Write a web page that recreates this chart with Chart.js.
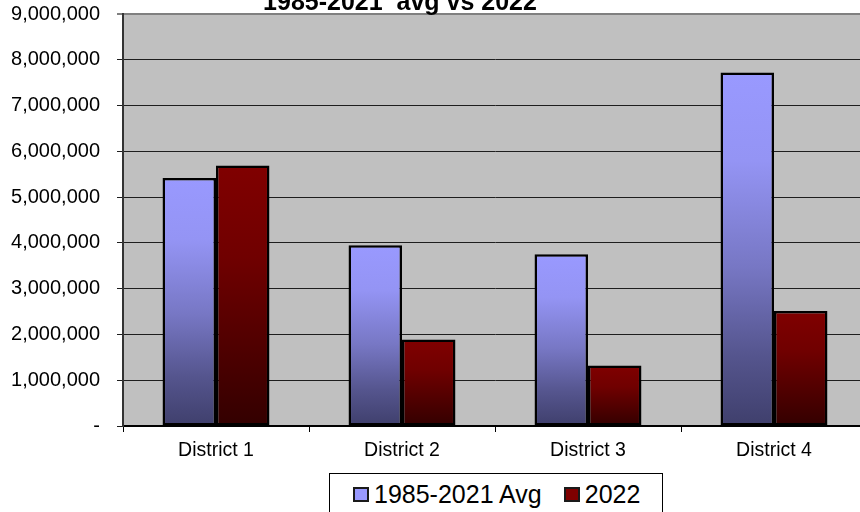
<!DOCTYPE html>
<html>
<head>
<meta charset="utf-8">
<script src="https://cdn.jsdelivr.net/npm/chart.js@4/dist/chart.umd.min.js"></script>
<style>
  html, body { margin: 0; padding: 0; background: #fff; overflow: hidden; }
  #wrap { position: relative; width: 860px; height: 512px; overflow: hidden; }
  #chart { position: absolute; left: 0; top: 0; }
  #legend {
    position: absolute; left: 329px; top: 473px; width: 334px; height: 60px;
    box-sizing: border-box; border: 1px solid #000; background: #fff;
    display: flex; align-items: flex-start; padding: 8px 0 0 23px;
    font: 25px "Liberation Sans", Arial, sans-serif; line-height: 1; color: #000;
    white-space: nowrap;
  }
  #legend .item { display: flex; align-items: center; margin-right: 22px; flex-shrink: 0; }
  #legend .swatch { width: 16px; height: 15px; box-sizing: border-box; border: 2px solid #1a1a1a; margin-right: 5px; }
</style>
</head>
<body>
<div id="wrap">
  <canvas id="chart" width="868" height="512"></canvas>
  <div id="legend"></div>
</div>
<script>
const districts = ['District 1', 'District 2', 'District 3', 'District 4'];
const avg8521 = [5420000, 3950000, 3750000, 7720000];
const year2022 = [5690000, 1890000, 1320000, 2510000];
const yTicks = ['-', '1,000,000', '2,000,000', '3,000,000', '4,000,000',
                '5,000,000', '6,000,000', '7,000,000', '8,000,000', '9,000,000'];
const titleText = '1985-2021  avg vs 2022';

const FONT = '"Liberation Sans", Arial, sans-serif';

// each bar gets its own top-to-bottom shading
function shaded(stops) {
  return (c) => {
    const chart = c.chart;
    if (c.type !== 'data' || !chart.scales.y) return stops[0][1];
    const y = chart.scales.y;
    const top = y.getPixelForValue(c.parsed.y);
    const base = y.getPixelForValue(0);
    if (!isFinite(top) || top === base) return stops[0][1];
    const g = chart.ctx.createLinearGradient(0, top, 0, base);
    stops.forEach(s => g.addColorStop(s[0], s[1]));
    return g;
  };
}

const blueStops = [[0, '#9999FF'], [0.25, '#9494F4'], [0.55, '#7777C4'], [0.8, '#55558E'], [1, '#3F3F6C']];
const redStops = [[0, '#800000'], [0.35, '#700000'], [1, '#330000']];

const plotBg = {
  id: 'plotBg',
  beforeDraw(chart) {
    const a = chart.chartArea, ctx = chart.ctx;
    ctx.save();
    ctx.fillStyle = '#C0C0C0';
    ctx.fillRect(a.left, a.top, a.right - a.left, a.bottom - a.top);
    ctx.restore();
  },
  afterDraw(chart) {
    const ctx = chart.ctx;
    ctx.save();
    ctx.font = 'bold 25px ' + FONT;
    ctx.fillStyle = '#000';
    ctx.textAlign = 'center';
    ctx.textBaseline = 'alphabetic';
    ctx.fillText(titleText, 400, 10);
    ctx.restore();
  }
};

const chart = new Chart(document.getElementById('chart'), {
  type: 'bar',
  data: {
    labels: districts,
    datasets: [{
      label: '1985-2021 Avg',
      data: avg8521,
      backgroundColor: shaded(blueStops),
      borderColor: '#000',
      borderWidth: 2.5,
      borderSkipped: false,
      categoryPercentage: 0.575,
      barPercentage: 1
    }, {
      label: '2022',
      data: year2022,
      backgroundColor: shaded(redStops),
      borderColor: '#000',
      borderWidth: 2.5,
      borderSkipped: false,
      categoryPercentage: 0.575,
      barPercentage: 1
    }]
  },
  options: {
    responsive: false,
    animation: false,
    layout: { padding: { top: 14, right: 1, left: 0, bottom: 0 } },
    plugins: {
      legend: { display: false },
      title: { display: false },
      tooltip: { enabled: false }
    },
    scales: {
      x: {
        offset: true,
        grid: { offset: true, drawOnChartArea: false, tickLength: 6, color: '#000', lineWidth: 1 },
        border: { color: '#000', width: 2 },
        ticks: { color: '#000', font: { family: FONT, size: 19.5 }, padding: 7, maxRotation: 0 },
        afterFit(s) { s.height = 86; }
      },
      y: {
        min: 0,
        max: 9000000,
        grid: {
          tickLength: 6,
          color: (c) => c.index === yTicks.length - 1 ? '#808080' : '#1e1e1e',
          lineWidth: (c) => c.index === yTicks.length - 1 ? 2 : 1
        },
        border: { color: '#333', width: 2 },
        ticks: {
          stepSize: 1000000,
          color: '#000',
          padding: 17,
          font: { family: FONT, size: 20 },
          callback: (v, i) => yTicks[i]
        },
        afterFit(s) {
          s.width = 123;
          s.paddingTop = 0;
          s.paddingBottom = 0;
        }
      }
    }
  },
  plugins: [plotBg]
});

// legend below the chart, built from the datasets
const legend = document.getElementById('legend');
['#9999FF', '#800000'].forEach((col, i) => {
  const item = document.createElement('div');
  item.className = 'item';
  const sw = document.createElement('span');
  sw.className = 'swatch';
  sw.style.background = col;
  const t = document.createElement('span');
  t.textContent = chart.data.datasets[i].label;
  item.appendChild(sw);
  item.appendChild(t);
  legend.appendChild(item);
});
</script>
</body>
</html>
